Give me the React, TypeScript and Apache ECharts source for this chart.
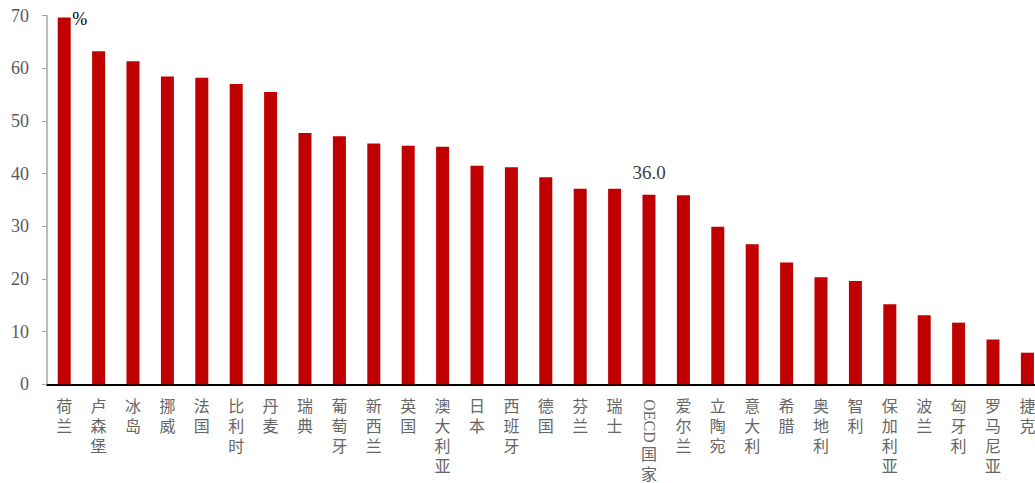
import React, { useEffect, useRef } from "react";
import * as echarts from "echarts";

const categories = [
  "荷兰", "卢森堡", "冰岛", "挪威", "法国", "比利时", "丹麦", "瑞典", "葡萄牙", "新西兰",
  "英国", "澳大利亚", "日本", "西班牙", "德国", "芬兰", "瑞士", "OECD国家", "爱尔兰", "立陶宛",
  "意大利", "希腊", "奥地利", "智利", "保加利亚", "波兰", "匈牙利", "罗马尼亚", "捷克",
];
const values = [
  69.6, 63.2, 61.3, 58.4, 58.2, 57.0, 55.5, 47.7, 47.1, 45.7,
  45.3, 45.1, 41.5, 41.2, 39.3, 37.1, 37.1, 36.0, 35.9, 29.9,
  26.6, 23.1, 20.3, 19.6, 15.2, 13.1, 11.7, 8.5, 6.0,
];
const highlightCategory = "OECD国家";
const unitLabel = "%";
const yMin = 0;
const yMax = 70;
const yInterval = 10;

export default function App() {
  const ref = useRef<HTMLDivElement>(null);
  useEffect(() => {
    if (!ref.current) return;
    const chart = echarts.init(ref.current, null, { renderer: "svg" });
    const serif = "'Liberation Serif', 'Times New Roman', serif";
    const cjk = "'Noto Sans CJK SC', sans-serif";
    chart.setOption({
      animation: false,
      grid: {
        left: 47,
        width: 997.6,
        top: 15.5,
        height: 368.8,
        containLabel: false,
        outerBoundsMode: "none",
      },
      xAxis: {
        type: "category",
        data: categories,
        axisLine: { show: true, lineStyle: { color: "#000", width: 2 } },
        axisTick: { show: false },
        axisLabel: {
          interval: 0,
          margin: 11,
          color: "#666",
          fontFamily: cjk,
          fontSize: 16,
          lineHeight: 20,
          hideOverlap: false,
          formatter: (v: string) =>
            v === highlightCategory
              ? "{sp| }\n" + v.replace("OECD", "").split("").join("\n")
              : v.split("").join("\n"),
          rich: { sp: { height: 48, lineHeight: 48, fontSize: 16 } },
        },
      },
      yAxis: {
        type: "value",
        min: yMin,
        max: yMax,
        interval: yInterval,
        splitLine: { show: false },
        axisLine: { show: true, lineStyle: { color: "#a6a6a6", width: 1.5 } },
        axisTick: { show: true, length: 5, lineStyle: { color: "#a6a6a6" } },
        axisLabel: { margin: 18, color: "#595959", fontFamily: serif, fontSize: 18 },
      },
      series: [
        {
          type: "bar",
          barWidth: 13,
          itemStyle: { color: "#c00000" },
          data: values.map((v, i) =>
            categories[i] === highlightCategory
              ? {
                  value: v,
                  label: {
                    show: true,
                    position: "top",
                    distance: 13,
                    formatter: (p: any) => Number(p.value).toFixed(1),
                    color: "#404040",
                    fontFamily: serif,
                    fontSize: 19,
                  },
                }
              : v
          ),
        },
      ],
    });
    const idx = categories.indexOf(highlightCategory);
    const px = chart.convertToPixel({ xAxisIndex: 0 }, idx as any) as unknown as number;
    const firstTop = chart.convertToPixel({ seriesIndex: 0 }, [0, values[0]]) as number[];
    chart.setOption({
      graphic: [
        {
          type: "text",
          x: px,
          y: 421,
          rotation: -Math.PI / 2,
          style: {
            text: "OECD",
            fill: "#666",
            font: `16px ${serif}`,
            align: "center",
            verticalAlign: "middle",
          },
        },
        {
          type: "text",
          x: firstTop[0] + 8,
          y: firstTop[1] - 8,
          style: {
            text: unitLabel,
            fill: "#000",
            font: `18px ${serif}`,
            align: "left",
            verticalAlign: "top",
          },
        },
      ],
    });
    return () => chart.dispose();
  }, []);
  return (
    <div
      ref={ref}
      style={{ position: "fixed", left: 0, top: 0, width: 1035, height: 483, background: "#fff" }}
    />
  );
}
